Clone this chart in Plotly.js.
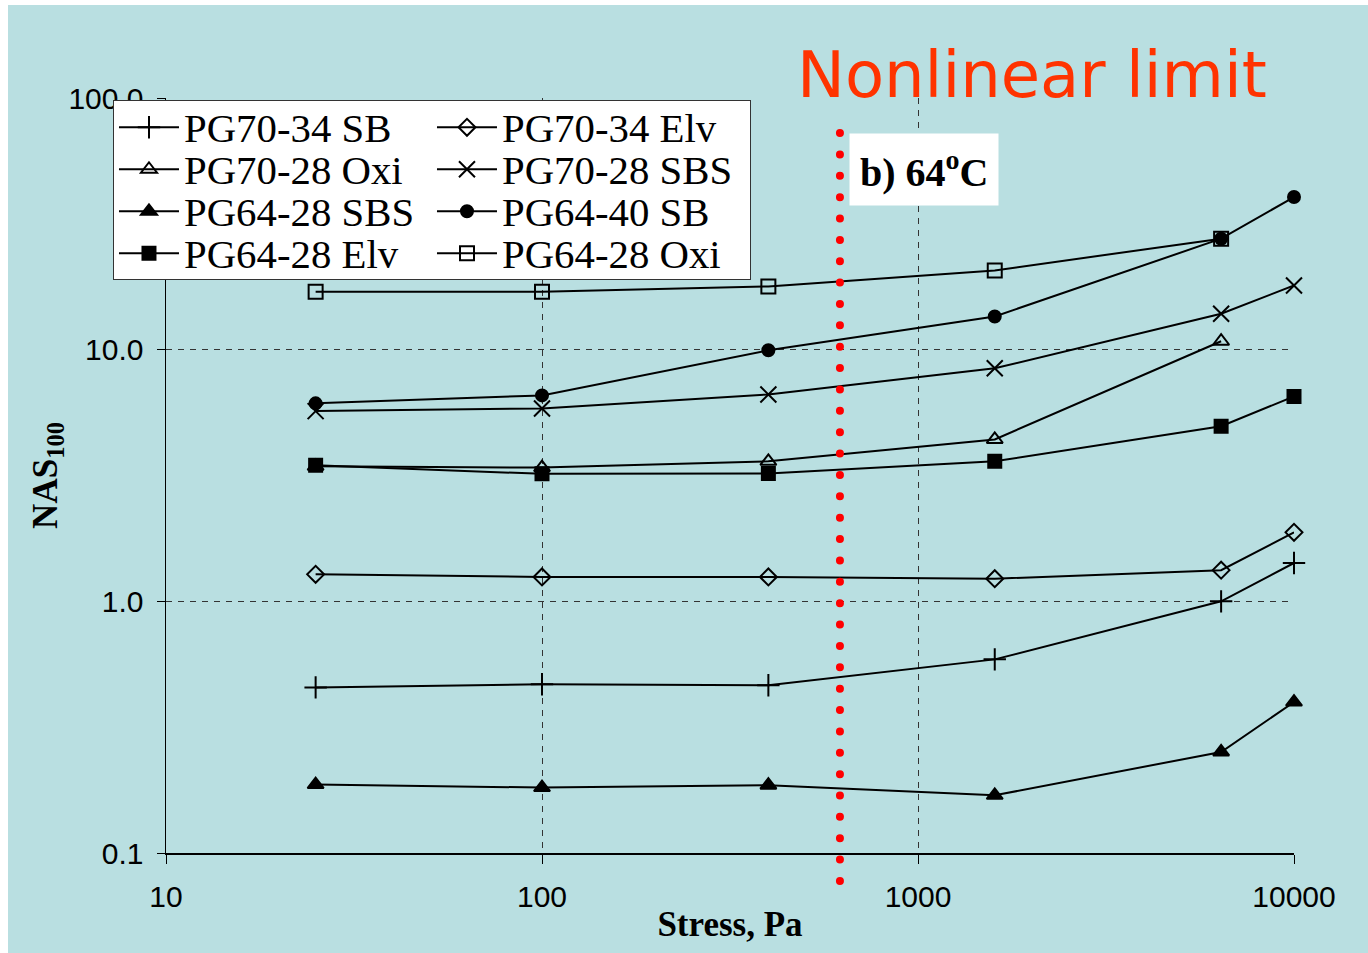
<!DOCTYPE html>
<html>
<head>
<meta charset="utf-8">
<script src="https://cdn.plot.ly/plotly-3.0.1.min.js"></script>
<style>
  html, body { margin: 0; padding: 0; background: #ffffff; }
  #chart { position: absolute; left: 8px; top: 5px; width: 1360px; height: 948px; }
  .shapelayer path { stroke-linecap: round; }
  .legend .legendtext {
    transform-box: fill-box;
    transform-origin: 0% 55%;
    transform: scale(1.36, 1.36);
  }
</style>
</head>
<body>
<div id="chart"></div>
<script>
// ---- data ----
var stress = [25, 100, 400, 1600, 6400, 10000];
var stress5 = [25, 100, 400, 1600, 6400];

var pg7034SB  = [0.455, 0.468, 0.464, 0.588, 1.00, 1.42];
var pg7034Elv = [1.28, 1.25, 1.25, 1.23, 1.33, 1.88];
var pg7028Oxi = [3.44, 3.40, 3.60, 4.40, 10.8];
var pg7028SBS = [5.70, 5.84, 6.64, 8.43, 13.9, 18.0];
var pg6428SBS = [0.187, 0.182, 0.186, 0.1695, 0.252, 0.398];
var pg6440SB  = [6.12, 6.58, 9.94, 13.55, 27.6, 40.4];
var pg6428Elv = [3.47, 3.21, 3.22, 3.60, 4.96, 6.52];
var pg6428Oxi = [17.0, 17.0, 17.84, 20.65, 27.6];

var seriesNames = ['PG70-34 SB', 'PG70-34 Elv', 'PG70-28 Oxi', 'PG70-28 SBS',
                   'PG64-28 SBS', 'PG64-40 SB', 'PG64-28 Elv', 'PG64-28 Oxi'];

var xTickVals = [10, 100, 1000, 10000];
var xTickText = ['10', '100', '1000', '10000'];
var yTickVals = [0.1, 1, 10, 100];
var yTickText = ['0.1', '1.0', '10.0', '100.0'];

var nonlinearLimit = 620;

// ---- traces ----
function mk(x, y, name, symbol, size) {
  return {
    type: 'scatter', mode: 'lines+markers', x: x, y: y, name: name,
    cliponaxis: false,
    line: { color: '#000000', width: 2 },
    marker: { symbol: symbol, size: size, color: '#000000',
              line: { color: '#000000', width: 2 } }
  };
}

var data = [
  mk(stress,  pg7034SB,  seriesNames[0], 'cross-thin-open', 16),
  mk(stress,  pg7034Elv, seriesNames[1], 'diamond-open', 13),
  mk(stress5, pg7028Oxi, seriesNames[2], 'triangle-up-open', 14),
  mk(stress,  pg7028SBS, seriesNames[3], 'x-thin-open', 16),
  mk(stress,  pg6428SBS, seriesNames[4], 'triangle-up', 14),
  mk(stress,  pg6440SB,  seriesNames[5], 'circle', 12),
  mk(stress,  pg6428Elv, seriesNames[6], 'square', 13),
  mk(stress5, pg6428Oxi, seriesNames[7], 'square-open', 14)
];

var bg = '#b9dfe1';

var layout = {
  width: 1360, height: 948,
  paper_bgcolor: bg, plot_bgcolor: bg,
  margin: { l: 158, r: 74, t: 93, b: 100 },
  showlegend: true,
  xaxis: {
    type: 'log', range: [1, 4],
    tickvals: xTickVals, ticktext: xTickText,
    ticks: 'outside', ticklen: 9, tickwidth: 1, tickcolor: '#000',
    ticklabelstandoff: 7,
    tickfont: { family: 'Liberation Sans, Arial, sans-serif', size: 30, color: '#000' },
    showline: true, linecolor: '#000', linewidth: 1.5,
    showgrid: true, gridcolor: '#333333', gridwidth: 1, griddash: '6px,6px',
    zeroline: false,
    title: { text: 'Stress, Pa', standoff: 0,
             font: { family: 'Liberation Serif, Times New Roman, serif', size: 35, color: '#000', weight: 'bold' } }
  },
  yaxis: {
    type: 'log', range: [-1, 2],
    tickvals: yTickVals, ticktext: yTickText,
    ticks: 'outside', ticklen: 8, tickwidth: 1, tickcolor: '#000',
    ticklabelstandoff: 7,
    tickfont: { family: 'Liberation Sans, Arial, sans-serif', size: 30, color: '#000' },
    showline: true, linecolor: '#000', linewidth: 1.5,
    showgrid: true, gridcolor: '#333333', gridwidth: 1, griddash: '6px,6px',
    zeroline: false,
    title: { text: '<b>NAS<sub>100</sub></b>', standoff: 0,
             font: { family: 'Liberation Serif, Times New Roman, serif', size: 35, color: '#000' } }
  },
  legend: {
    x: -0.047, xanchor: 'left', y: 0.997, yanchor: 'top',
    orientation: 'h',
    itemwidth: 60,
    entrywidth: 243, entrywidthmode: 'pixels',
    bgcolor: '#ffffff', bordercolor: '#333333', borderwidth: 1,
    font: { family: 'Liberation Serif, Times New Roman, serif', size: 30, color: '#000' },
    tracegroupgap: 0
  },
  shapes: [{
    type: 'line', xref: 'x', yref: 'paper',
    x0: nonlinearLimit, x1: nonlinearLimit, y0: 0.9536, y1: -0.041,
    line: { color: '#ff0000', width: 8, dash: '0px,21.37px' }
  }],
  annotations: [
    { text: 'Nonlinear limit', xref: 'paper', yref: 'paper',
      x: 0.768, y: 1.03, xanchor: 'center', yanchor: 'middle', showarrow: false,
      font: { family: 'DejaVu Sans, Verdana, sans-serif', size: 64, color: '#ff3300' } },
    { text: '<b>b) 64<sup>o</sup>C</b>', xref: 'paper', yref: 'paper',
      x: 0.672, y: 0.905, xanchor: 'center', yanchor: 'middle', showarrow: false,
      bgcolor: '#ffffff', borderpad: 10,
      font: { family: 'Liberation Serif, Times New Roman, serif', size: 40, color: '#000' } }
  ]
};

Plotly.newPlot('chart', data, layout, { displayModeBar: false, staticPlot: true });
</script>
</body>
</html>
